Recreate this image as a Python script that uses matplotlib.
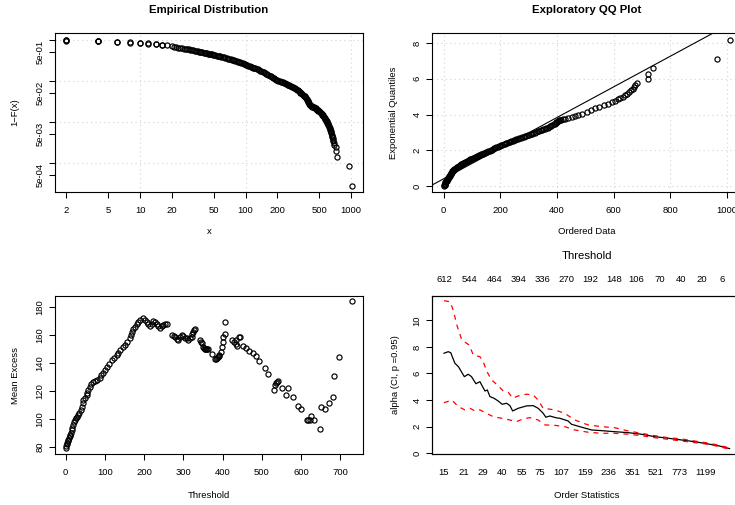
import matplotlib
matplotlib.use('Agg')
import matplotlib.pyplot as plt
from matplotlib.ticker import FixedLocator, NullLocator
import numpy as np

plt.rcParams['font.family'] = ['Liberation Sans', 'DejaVu Sans']

# --- empirical distribution: sorted data vs 1-F(x)
emp_x = [2, 2, 2, 4, 4, 4, 6, 6, 8, 8, 10, 10, 12, 12, 14, 14, 16, 16, 18, 20,
         22, 24, 26, 28, 30, 32, 34, 36, 38, 40, 42, 44, 46, 48, 50, 53, 56, 59,
         62, 66, 70, 74, 78, 82, 86, 91, 96, 101, 106, 112, 118, 124, 130, 137,
         145, 152, 160, 169, 178, 187, 196, 205, 215, 225, 235, 245, 255, 265,
         275, 287, 300, 312, 325, 337, 350, 362, 375, 383, 390, 398, 405, 412,
         420, 430, 440, 450, 460, 470, 480, 490, 500, 510, 520, 530, 540, 550,
         560, 570, 580, 590, 600, 610, 620, 630, 640, 648, 655, 660, 665, 669,
         672, 677, 682, 690, 721, 721, 738, 965, 1012]
emp_surv = [0.998, 0.975, 0.955, 0.945, 0.93, 0.915, 0.895, 0.88, 0.862, 0.848,
            0.84, 0.826, 0.815, 0.80, 0.785, 0.77, 0.758, 0.744, 0.724, 0.692,
            0.661, 0.631, 0.610, 0.589, 0.569, 0.549, 0.531, 0.515, 0.501, 0.487,
            0.473, 0.46, 0.447, 0.437, 0.427, 0.412, 0.398, 0.385, 0.372, 0.355,
            0.339, 0.326, 0.313, 0.300, 0.288, 0.276, 0.263, 0.248, 0.234, 0.221,
            0.209, 0.200, 0.191, 0.178, 0.166, 0.155, 0.145, 0.134, 0.123, 0.115,
            0.107, 0.101, 0.0955, 0.0912, 0.0871, 0.0832, 0.0794, 0.0759, 0.0724,
            0.0676, 0.0631, 0.0583, 0.0537, 0.0495, 0.0457, 0.0417, 0.0372,
            0.0345, 0.0316, 0.0288, 0.0263, 0.0254, 0.0245, 0.0237, 0.0229,
            0.0221, 0.0214, 0.0204, 0.0195, 0.0188, 0.0182, 0.0172, 0.0162,
            0.0153, 0.0145, 0.0135, 0.0126, 0.0116, 0.0107, 0.0099, 0.0091,
            0.0083, 0.0076, 0.0068, 0.0060, 0.0054, 0.0049, 0.0046, 0.0043,
            0.0040, 0.0037, 0.0034, 0.0031, 0.0028, 0.0025, 0.00195, 0.00138,
            0.00083, 0.000278]
# extra readings along the dense part of the band
emp_x2 = [21, 23, 25, 27, 29, 31, 33, 35, 37, 39, 41, 43, 45, 47, 49, 51.5, 54.5,
          57.5, 60.5, 64, 68, 72, 76, 80, 84, 88.5, 93.5, 98.5, 103.5, 109, 115,
          121, 127, 133.5, 141, 148.5, 156, 164.5, 173.5, 182.5, 191.5, 200.5,
          210, 220, 230, 240, 250, 260, 270, 281, 293.5, 306, 318.5, 331, 343.5,
          356, 368.5, 379, 386.5, 394, 401.5, 408.5, 416, 425, 435, 445, 455,
          465, 475, 485, 495, 505, 515, 525, 535, 545, 555, 565, 575, 585, 595,
          605, 615, 625, 635, 644]
emp_surv2 = [0.676, 0.646, 0.62, 0.60, 0.579, 0.559, 0.54, 0.523, 0.508, 0.494,
             0.48, 0.466, 0.453, 0.442, 0.432, 0.42, 0.405, 0.391, 0.378, 0.363,
             0.347, 0.332, 0.319, 0.306, 0.294, 0.282, 0.27, 0.255, 0.241, 0.227,
             0.215, 0.204, 0.195, 0.184, 0.172, 0.16, 0.15, 0.139, 0.128, 0.119,
             0.111, 0.104, 0.098, 0.0933, 0.0891, 0.0851, 0.0813, 0.0776, 0.0741,
             0.07, 0.0653, 0.0607, 0.056, 0.0516, 0.0476, 0.0437, 0.0394, 0.0358,
             0.033, 0.0302, 0.0275, 0.0258, 0.0249, 0.0241, 0.0233, 0.0225,
             0.0217, 0.0209, 0.02, 0.0191, 0.0185, 0.0177, 0.0167, 0.0157,
             0.0149, 0.014, 0.013, 0.0121, 0.0111, 0.0103, 0.0095, 0.0087,
             0.0079, 0.0072, 0.0064, 0.0057]

# --- exploratory QQ plot: ordered data vs exponential quantiles
qq_x = [2, 2, 4, 4, 6, 6, 8, 10, 12, 14, 16, 18, 20, 22, 24, 26, 28, 31, 34, 38,
        42, 46, 50, 55, 60, 65, 70, 76, 82, 88, 94, 100, 107, 114, 121, 128, 135,
        142, 150, 158, 166, 174, 182, 190, 198, 207, 216, 225, 234, 243, 252,
        262, 272, 282, 292, 302, 312, 322, 332, 342, 352, 362, 372, 380, 388,
        395, 400, 405, 412, 420, 430, 440, 452, 464, 476, 490, 505, 520, 535,
        550, 565, 580, 594, 605, 615, 624, 632, 641, 648, 655, 661, 667, 672,
        676, 682, 721, 721, 738, 965, 1012]
qq_y = [0.02, 0.05, 0.09, 0.13, 0.18, 0.22, 0.27, 0.32, 0.37, 0.42, 0.47, 0.52,
        0.57, 0.62, 0.67, 0.72, 0.77, 0.83, 0.89, 0.95, 1.0, 1.05, 1.1, 1.15,
        1.2, 1.25, 1.3, 1.35, 1.4, 1.45, 1.5, 1.55, 1.6, 1.65, 1.7, 1.75, 1.8,
        1.85, 1.9, 1.96, 2.02, 2.08, 2.14, 2.2, 2.26, 2.32, 2.38, 2.44, 2.5,
        2.55, 2.6, 2.65, 2.7, 2.76, 2.82, 2.88, 2.94, 3.0, 3.06, 3.12, 3.18,
        3.24, 3.3, 3.38, 3.46, 3.54, 3.6, 3.65, 3.7, 3.74, 3.77, 3.81, 3.86,
        3.92, 3.98, 4.06, 4.15, 4.25, 4.35, 4.44, 4.52, 4.6, 4.69, 4.77, 4.85,
        4.92, 5.0, 5.1, 5.18, 5.27, 5.36, 5.45, 5.55, 5.65, 5.78, 6.0, 6.25,
        6.58, 7.09, 8.19]
# extra readings along the dense part of the band
qq_x2 = [3, 5, 7, 9, 11, 13, 15, 17, 19, 21, 23, 25, 27, 29.5, 32.5, 36, 40, 44,
         48, 52.5, 57.5, 62.5, 67.5, 73, 79, 85, 91, 97, 103.5, 110.5, 117.5,
         124.5, 131.5, 138.5, 146, 154, 162, 170, 178, 186, 194, 202.5, 211.5,
         220.5, 229.5, 238.5, 247.5, 257, 267, 277, 287, 297, 307, 317, 327,
         337, 347, 357, 367, 376, 384, 391.5, 397.5, 402.5, 408.5, 416]
qq_y2 = [0.07, 0.15, 0.245, 0.295, 0.345, 0.395, 0.445, 0.495, 0.545, 0.595,
         0.645, 0.695, 0.745, 0.8, 0.86, 0.92, 0.975, 1.025, 1.075, 1.125,
         1.175, 1.225, 1.275, 1.325, 1.375, 1.425, 1.475, 1.525, 1.575, 1.625,
         1.675, 1.725, 1.775, 1.825, 1.875, 1.93, 1.99, 2.05, 2.11, 2.17, 2.23,
         2.29, 2.35, 2.41, 2.47, 2.525, 2.575, 2.625, 2.675, 2.73, 2.79, 2.85,
         2.91, 2.97, 3.03, 3.09, 3.15, 3.21, 3.27, 3.34, 3.42, 3.5, 3.57,
         3.625, 3.675, 3.72]
qq_intercept = 0.42
qq_slope = 0.00855

# --- mean excess plot
me_x = [0, 1.5, 2.5, 4, 5.5, 7, 8.5, 10, 11, 13, 15, 17, 19.6, 21.5, 23.8, 27,
        30, 32.5, 35, 38, 41, 43, 45, 49, 53.6, 55.5, 57.8, 61, 64, 69, 75, 81,
        87.6, 91, 94, 99, 104.6, 110, 117, 123, 130, 134, 138.6, 145, 151, 157,
        164, 166, 168, 172, 177, 181, 185, 190, 196, 201, 206.6, 211, 215, 219,
        223.6, 228, 232, 236, 240.6, 245, 249, 253, 257.7, 270, 275, 279, 283,
        287, 291.7, 296, 300, 304, 308.7, 313, 317, 321, 323, 325, 328, 330,
        343, 345, 347.6, 350, 351.9, 354, 356, 358, 360, 362, 372.5, 381, 383,
        385, 388, 390, 392, 395, 398, 400, 402, 405, 406.5, 423.4, 429, 433,
        434, 438, 441, 444, 453.2, 460, 468.5, 477, 485.5, 494, 508.5, 517,
        532.3, 534, 536, 538, 542, 551, 562, 568, 580.6, 591, 599, 614, 618,
        623, 624.8, 633, 648.6, 650, 662, 672, 681, 685, 696, 730]
me_y = [78.8, 80.5, 81.7, 83, 84, 84.8, 86.5, 87.5, 88.3, 90, 91.9, 93.5, 95.5,
        97.5, 99, 100.3, 101.4, 102.5, 103.8, 106, 108.6, 111, 113.3, 115,
        116.9, 118.5, 120.5, 122.5, 124.8, 126, 127.1, 128, 129.3, 131, 133,
        135, 137.1, 139, 141.9, 143.5, 145.5, 147, 149, 151, 152.6, 155, 157.4,
        160, 162, 164, 165.7, 167.5, 169.3, 170.5, 171.7, 170.5, 168.8, 167.5,
        166.4, 168, 169.8, 169, 168, 166.5, 165, 166, 166.9, 167.5, 168, 159.8,
        159, 158.6, 157, 156.2, 158.6, 159.8, 159.3, 158, 157.4, 156.2, 157.5,
        158.6, 160.5, 162, 163.5, 164, 156.2, 155, 153.8, 151.5, 150.2, 150,
        149.8, 149.8, 149.8, 149.5, 146.2, 142.6, 142.8, 143.1, 144, 145,
        145.5, 147.9, 151.4, 155, 158.6, 160.5, 168.8, 156.2, 154.5, 156.2,
        153.1, 152.1, 158.6, 158.6, 151.9, 150.2, 148.3, 146.7, 144.8, 141.2,
        136, 131.7, 120.5, 124, 125.5, 126.4, 127.1, 121.7, 116.9, 122.1,
        115.7, 109.3, 106.9, 99, 99, 99, 102.1, 99, 92.4, 108.1, 106.9, 111.4,
        115.7, 130.5, 144.3, 184]

# --- Hill plot (alpha) with 95% CI, against order statistics
hill_k = [15, 16.1, 16.8, 18.0, 19.1, 21.1, 22.5, 23.8, 25.6, 27.4, 29.8, 31.0,
          32.4, 34.6, 37.2, 39.8, 42.8, 45.3, 47.4, 52.0, 59.8, 66.9, 72.7, 79.0,
          82.7, 88.4, 98.9, 104.5, 120, 127, 146, 178, 210, 262, 328, 410, 512,
          640, 801, 1000, 1250, 1478, 1797]
hill_alpha = [7.52, 7.64, 7.56, 6.77, 6.51, 5.76, 5.94, 5.76, 5.23, 5.38, 4.68,
              4.76, 4.26, 4.14, 3.93, 3.68, 3.76, 3.58, 3.18, 3.38, 3.56, 3.58,
              3.38, 3.01, 2.71, 2.8, 2.66, 2.63, 2.43, 2.18, 2.0, 1.75, 1.7,
              1.62, 1.55, 1.43, 1.25, 1.13, 1.0, 0.87, 0.7, 0.57, 0.35]
ci_up_k = [15, 16.6, 17.5, 18.6, 20.2, 21.9, 22.9, 24.5, 27.4, 28.9, 31.0, 33.3,
           37.2, 40.5, 44.0, 47.4, 52.0, 59.8, 66.9, 72.7, 79.0, 86.0, 96.1,
           113.6, 134.3, 167.8, 210, 262, 328, 410, 512, 640, 801, 1000, 1250,
           1478, 1797]
ci_up = [11.47, 11.4, 10.77, 9.65, 8.52, 8.27, 8.14, 7.39, 7.26, 6.89, 6.09,
         5.51, 5.08, 4.68, 4.59, 4.14, 4.31, 4.44, 4.38, 4.0, 3.38, 3.33, 3.26,
         3.0, 2.5, 2.13, 2.0, 1.92, 1.68, 1.5, 1.32, 1.17, 1.08, 0.92, 0.77,
         0.62, 0.40]
ci_lo_k = [15, 17.1, 19.1, 21.3, 23.2, 25.2, 27.4, 30.6, 34.2, 39.4, 45.3, 50.6,
           56.5, 63.3, 72.7, 81.3, 96.1, 113.6, 134.3, 167.8, 210, 262, 328,
           410, 512, 640, 801, 1000, 1250, 1478, 1797]
ci_lo = [3.8, 4.0, 3.5, 3.26, 3.38, 3.18, 3.26, 3.0, 2.75, 2.63, 2.5, 2.38,
         2.58, 2.68, 2.5, 2.13, 2.1, 2.0, 1.75, 1.58, 1.5, 1.5, 1.43, 1.32,
         1.17, 1.05, 0.92, 0.8, 0.68, 0.52, 0.30]
order_ticks = [15, 21, 29, 40, 55, 75, 107, 159, 236, 351, 521, 773, 1199]
thresh_k = [15, 22.9, 35, 51.9, 77.5, 116, 173, 259, 378, 558, 802, 1122, 1596]
thresh_labels = ['612', '544', '464', '394', '336', '270', '192', '148', '106',
                 '70', '40', '20', '6']

W, H = 735, 505
FS = 6.8


def box(l, t, r, b):
    return [l / W, 1 - b / H, (r - l) / W, (b - t) / H]


def style(ax, grid=False):
    for s in ax.spines.values():
        s.set_linewidth(0.8)
    ax.tick_params(axis='both', length=4.3, width=0.75, labelsize=FS)
    ax.tick_params(axis='x', pad=5.5)
    ax.tick_params(axis='y', pad=3.3)
    ax.xaxis.set_minor_locator(NullLocator())
    ax.yaxis.set_minor_locator(NullLocator())
    if grid:
        ax.grid(True, color='#d3d3d3', linestyle=(0, (1, 3)), linewidth=0.8)
        ax.set_axisbelow(True)


def rot_y(ax):
    for lab in ax.get_yticklabels():
        lab.set_rotation(90)
        lab.set_va('center')
        lab.set_ha('right')


def labels(ax, xl, yl, xoff, yoff, hpx, wpx):
    ax.set_xlabel(xl, fontsize=FS)
    ax.set_ylabel(yl, fontsize=FS)
    ax.xaxis.set_label_coords(0.5, -xoff / hpx)
    ax.xaxis.label.set_va('center')
    ax.yaxis.set_label_coords(-yoff / wpx, 0.5)
    ax.yaxis.label.set_va('center')
    ax.yaxis.label.set_ha('center')


fig = plt.figure(figsize=(W / 100, H / 100), dpi=100)
mk = dict(marker='o', linestyle='none', markersize=3.7, mfc='none',
          mec='black', mew=0.85)

# Panel 1
ax1 = fig.add_axes(box(55, 33, 363, 192))
ax1.set_xscale('log')
ax1.set_yscale('log')
ax1.plot(emp_x, emp_surv, **mk)
ax1.plot(emp_x2, emp_surv2, **mk)
ax1.set_xlim(1.56, 1297)
ax1.set_ylim(1.97e-4, 1.456)
style(ax1)
ax1.xaxis.set_major_locator(FixedLocator([2, 5, 10, 20, 50, 100, 200, 500, 1000]))
ax1.set_xticklabels(['2', '5', '10', '20', '50', '100', '200', '500', '1000'])
ax1.yaxis.set_major_locator(FixedLocator([1, 0.5, 0.1, 0.05, 0.01, 0.005, 0.001, 0.0005]))
ax1.set_yticklabels(['', '5e-01', '', '5e-02', '', '5e-03', '', '5e-04'])
for v in [10, 100, 1000]:
    ax1.axvline(v, color='#d3d3d3', linestyle=(0, (1, 3)), linewidth=0.8, zorder=0)
for v in [1, 0.1, 0.01, 0.001]:
    ax1.axhline(v, color='#d3d3d3', linestyle=(0, (1, 3)), linewidth=0.8, zorder=0)
rot_y(ax1)
labels(ax1, 'x', '1\u2212F(x)', 40, 40, 159, 308)
ax1.set_title('Empirical Distribution', fontsize=8.2, fontweight='bold',
              y=1 + 23 / 159, va='center', pad=0)

# Panel 2
ax2 = fig.add_axes(box(432.3, 33, 741, 192))
ax2.plot(qq_x, qq_y, **mk)
ax2.plot(qq_x2, qq_y2, **mk)
ax2.axline((0, qq_intercept), slope=qq_slope, color='black', linewidth=0.8)
ax2.set_xlim(-40.3, 1050)
ax2.set_ylim(-0.32, 8.56)
style(ax2, grid=True)
ax2.set_xticks([0, 200, 400, 600, 800, 1000])
ax2.set_yticks([0, 2, 4, 6, 8])
rot_y(ax2)
labels(ax2, 'Ordered Data', 'Exponential Quantiles', 40, 39, 159, 308.7)
ax2.set_title('Exploratory QQ Plot', fontsize=8.2, fontweight='bold',
              y=1 + 23 / 159, va='center', pad=0)

# Panel 3
ax3 = fig.add_axes(box(55, 295.7, 363, 454.3))
ax3.plot(me_x, me_y, **mk)
ax3.set_xlim(-27.3, 758)
ax3.set_ylim(74.6, 187.9)
style(ax3)
ax3.set_xticks(np.arange(0, 701, 100))
ax3.set_yticks(np.arange(80, 181, 20))
rot_y(ax3)
labels(ax3, 'Threshold', 'Mean Excess', 40.7, 40, 158.6, 308)

# Panel 4
ax4 = fig.add_axes(box(432.3, 295.7, 741, 454.3))
ax4.set_xscale('log')
ax4.plot(hill_k, hill_alpha, color='black', linewidth=0.9)
ax4.plot(ci_up_k, ci_up, color='red', linewidth=0.9, linestyle=(0, (4, 4)))
ax4.plot(ci_lo_k, ci_lo, color='red', linewidth=0.9, linestyle=(0, (4, 4)))
ax4.set_xlim(12.33, 2178)
ax4.set_ylim(-0.08, 11.85)
style(ax4)
ax4.xaxis.set_major_locator(FixedLocator(order_ticks))
ax4.set_xticklabels([str(v) for v in order_ticks])
ax4.tick_params(axis='x', length=0, pad=9.6)
ax4.set_yticks([0, 2, 4, 6, 8, 10])
rot_y(ax4)
labels(ax4, 'Order Statistics', 'alpha (CI, p =0.95)', 40.7, 37.3, 158.6, 308.7)

ax4t = ax4.twiny()
ax4t.set_xscale('log')
ax4t.set_xlim(ax4.get_xlim())
ax4t.xaxis.set_minor_locator(NullLocator())
ax4t.xaxis.set_major_locator(FixedLocator(thresh_k))
ax4t.set_xticklabels(thresh_labels)
ax4t.tick_params(axis='x', length=0, pad=8.5, labelsize=FS)
for s in ax4t.spines.values():
    s.set_linewidth(0.8)
ax4t.set_xlabel('Threshold', fontsize=8.2)
ax4t.xaxis.set_label_coords(0.5, 1 + 39.7 / 158.6)
ax4t.xaxis.label.set_va('center')

fig.savefig('out.png', dpi=100)
